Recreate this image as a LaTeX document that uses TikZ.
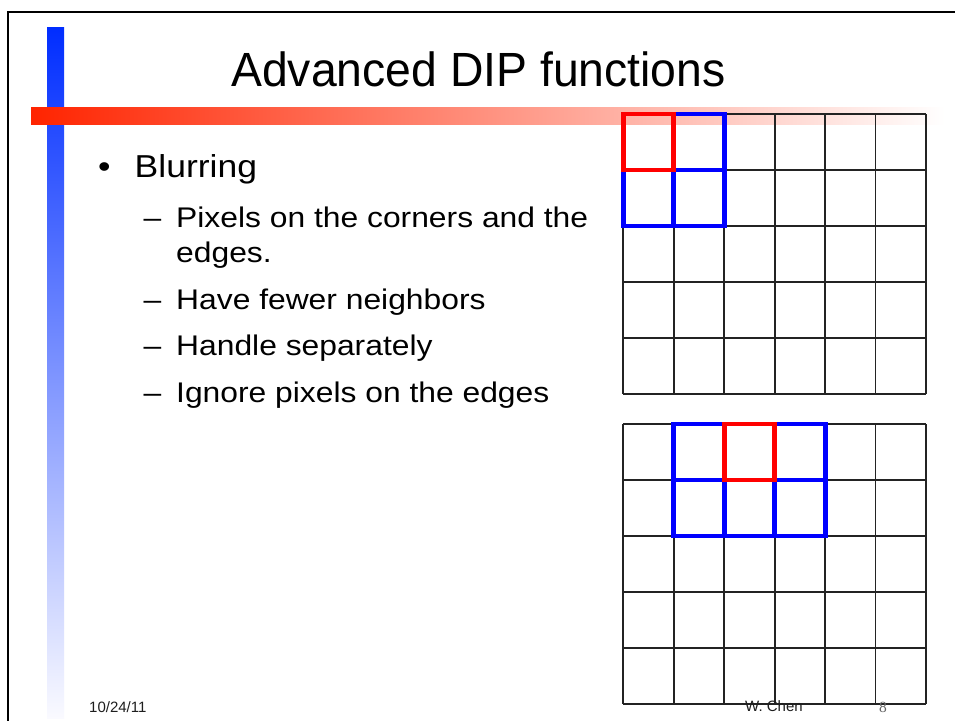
\documentclass[tikz,border=0pt]{standalone}
\usepackage{fontspec}
\setmainfont{Liberation Sans}
\newfontfamily\titlefont[FakeStretch=0.965]{Liberation Sans}
\newfontfamily\bodyfont[FakeStretch=1.12]{Liberation Sans}
\newfontfamily\pagenumfont{Liberation Serif}
\definecolor{barblue}{RGB}{0,45,255}
\definecolor{barblueend}{RGB}{250,250,255}
\definecolor{barred}{RGB}{255,36,0}
\definecolor{gridgray}{RGB}{35,35,35}
\definecolor{footgray}{RGB}{30,30,30}
\definecolor{numgray}{RGB}{100,100,100}
\begin{document}
\begin{tikzpicture}[x=1pt,y=-1pt,
  gridline/.style={draw=gridgray,line width=1.7pt},
  hiblue/.style={draw={rgb,255:red,0;green,0;blue,255},line width=4.8pt},
  hired/.style={draw={rgb,255:red,255;green,0;blue,0},line width=4.8pt},
  titletext/.style={anchor=base,font=\titlefont\fontsize{48}{58}\selectfont},
  lvlone/.style={anchor=base west,inner sep=0pt,font=\bodyfont\fontsize{31.7}{38}\selectfont},
  lvltwo/.style={anchor=base west,inner sep=0pt,font=\bodyfont\fontsize{28.4}{34}\selectfont},
  foottext/.style={anchor=base west,inner sep=0pt,text=footgray,font=\fontsize{15}{18}\selectfont}]
\useasboundingbox (0,0) rectangle (955,720);
\fill[white] (0,0) rectangle (955,720);

% slide frame (left and top edges)
\draw[line width=1.4pt] (8,722) -- (8,12) -- (957,12);

% decorative bars
\shade[top color=barblue,bottom color=barblueend] (47,27) rectangle (64,718);
\shade[left color=barred,right color=white] (31,107) rectangle (945,124);

% title
\node[titletext] (title) at (478.4,86) {Advanced DIP functions};

% bullet list
\node[lvlone] (b1) at (98,177.7) {•};
\node[lvlone] (t1) at (134.5,177.7) {Blurring};
\foreach \yy/\txt [count=\k] in {227.7/Pixels on the corners and the,
                                 309.3/Have fewer neighbors,
                                 355.7/Handle separately,
                                 402.7/Ignore pixels on the edges}{
  \node[lvltwo] (d\k) at (143.3,\yy) {–};
  \node[lvltwo] (s\k) at (176,\yy) {\txt};
}
\node[lvltwo] (s1b) at (176,262.6) {edges.};

% top grid: 6 x 5 pixels
\foreach \i in {0,...,6}
  \draw[gridline] ({623.3+\i*50.45},114) -- ({623.3+\i*50.45},394);
\foreach \j in {0,...,5}
  \draw[gridline] (623.3,{114+\j*56}) -- (926,{114+\j*56});
% corner pixel and its neighbourhood
\draw[hiblue] (623.3,114) rectangle (724.2,226);
\draw[hiblue] (673.75,114) -- (673.75,226);
\draw[hiblue] (623.3,170) -- (724.2,170);
\draw[hired] (623.3,114) rectangle (673.75,170);

% bottom grid: 6 x 5 pixels
\foreach \i in {0,...,6}
  \draw[gridline] ({623.3+\i*50.45},424) -- ({623.3+\i*50.45},704);
\foreach \j in {0,...,5}
  \draw[gridline] (623.3,{424+\j*56}) -- (926,{424+\j*56});
% edge pixel and its neighbourhood
\draw[hiblue] (673.75,424) rectangle (825.1,536);
\draw[hiblue] (724.2,424) -- (724.2,536);
\draw[hiblue] (774.65,424) -- (774.65,536);
\draw[hiblue] (673.75,480) -- (825.1,480);
\draw[hired] (724.2,424) rectangle (774.65,480);

% footer
\node[foottext] (date) at (89,712.7) {10/24/11};
\node[foottext] (author) at (745,711.7) {W. Chen};
\node[anchor=base west,inner sep=0pt,text=numgray,font=\pagenumfont\fontsize{15.5}{18}\selectfont] (pagenum) at (879,712.3) {8};
\end{tikzpicture}
\end{document}
